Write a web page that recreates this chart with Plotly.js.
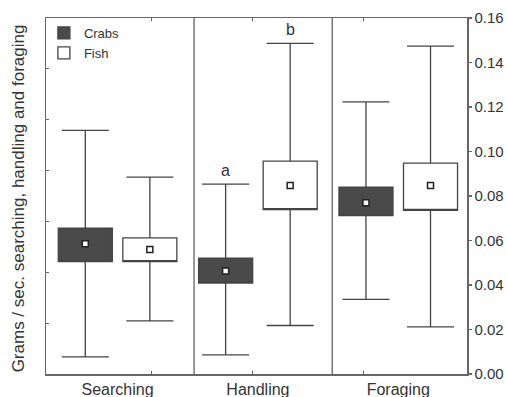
<!DOCTYPE html>
<html>
<head>
<meta charset="utf-8">
<script src="https://cdn.plot.ly/plotly-3.0.1.min.js"></script>
<style>html,body{margin:0;padding:0;background:#fff;}#chart{width:507px;height:397px;}</style>
</head>
<body>
<div id="chart"></div>
<script>
// Categories and series (mean, ±SE box, ±SD whiskers)
const categories = ['Searching', 'Handling', 'Foraging'];
const crabMean = [0.0585, 0.0463, 0.0770];
const crabSeHi = [0.0655, 0.0521, 0.0840];
const crabSeLo = [0.0505, 0.0409, 0.0712];
const crabSdHi = [0.1095, 0.0853, 0.1223];
const crabSdLo = [0.0077, 0.0086, 0.0335];
const fishMean = [0.0559, 0.0847, 0.0847];
const fishSeHi = [0.0612, 0.0957, 0.0948];
const fishSeLo = [0.0505, 0.0739, 0.0735];
const fishSdHi = [0.0885, 0.1486, 0.1474];
const fishSdLo = [0.0239, 0.0218, 0.0212];
const crabSig = ['', 'a', ''];
const fishSig = ['', 'b', ''];
const yTicks = [0, 0.02, 0.04, 0.06, 0.08, 0.10, 0.12, 0.14, 0.16];

const crabOffset = -0.22, fishOffset = 0.24;
const crabX = categories.map((c, i) => i + crabOffset);
const fishX = categories.map((c, i) => i + fishOffset);
const labelX = categories.map((c, i) => i + (crabOffset + fishOffset) / 2);

const lineCol = '#444';
const textCol = '#333';
const font = 'Liberation Sans, Arial, sans-serif';

function boxTrace(name, xs, lo, hi, sdLo, sdHi, fill) {
  return {
    type: 'box', name: name, x: xs,
    q1: lo, median: lo, q3: hi, lowerfence: sdLo, upperfence: sdHi,
    width: 0.385, whiskerwidth: 0.87,
    fillcolor: fill, line: {color: lineCol, width: 1.3},
    hoverinfo: 'skip', showlegend: true
  };
}
function meanTrace(xs, m) {
  return {
    type: 'scatter', mode: 'markers', x: xs, y: m, showlegend: false, hoverinfo: 'skip',
    marker: {symbol: 'square', size: 6, color: '#fff', line: {color: '#222', width: 1.5}}
  };
}

const data = [
  boxTrace('Crabs', crabX, crabSeLo, crabSeHi, crabSdLo, crabSdHi, '#4a4a4a'),
  boxTrace('Fish', fishX, fishSeLo, fishSeHi, fishSdLo, fishSdHi, '#ffffff'),
  meanTrace(crabX, crabMean),
  meanTrace(fishX, fishMean),
  {type: 'scatter', x: [null], y: [null], xaxis: 'x2', yaxis: 'y2', showlegend: false, hoverinfo: 'skip'}
];

const annotations = [];
crabSig.forEach((s, i) => { if (s) annotations.push({x: crabX[i], y: crabSdHi[i], text: s, showarrow: false, yanchor: 'bottom', yshift: 3, font: {size: 16, color: textCol, family: font}}); });
fishSig.forEach((s, i) => { if (s) annotations.push({x: fishX[i], y: fishSdHi[i], text: s, showarrow: false, yanchor: 'bottom', yshift: 3, font: {size: 16, color: textCol, family: font}}); });
annotations.push({
  xref: 'paper', yref: 'paper', x: -0.066, y: 0.494, xanchor: 'center', yanchor: 'middle',
  textangle: -90, showarrow: false,
  text: 'Grams / sec. searching, handling and foraging',
  font: {size: 17, color: textCol, family: font}
});

const layout = {
  width: 507, height: 397,
  margin: {l: 46, r: 40, t: 18, b: 23},
  paper_bgcolor: '#fff', plot_bgcolor: '#fff',
  font: {family: font, color: textCol},
  showlegend: true,
  legend: {x: -0.005, y: 1.0, xanchor: 'left', yanchor: 'top', bgcolor: 'rgba(0,0,0,0)',
           font: {size: 13, color: textCol, family: font}, itemwidth: 30, tracegroupgap: 0},
  xaxis: {
    range: [-0.5, 2.5], tickvals: labelX, ticktext: categories, ticks: '',
    showline: true, mirror: true, linecolor: '#666', linewidth: 1.5,
    showgrid: false, zeroline: false, tickfont: {size: 16, color: textCol, family: font}
  },
  yaxis: {
    range: [0, 0.16], tickvals: yTicks, tickformat: '.2f', side: 'right',
    ticks: 'outside', ticklen: 3, tickcolor: '#666', tickwidth: 1.2,
    showline: true, mirror: true, linecolor: '#666', linewidth: 1.5,
    showgrid: false, zeroline: false, tickfont: {size: 15, color: textCol, family: font}
  },
  xaxis2: {
    overlaying: 'x', anchor: 'y2', range: [-0.5, 2.5], tickvals: [0.255, 0.975, 1.76],
    ticks: 'inside', ticklen: 3, tickcolor: '#666', mirror: 'ticks', showline: false,
    showticklabels: false, showgrid: false, zeroline: false
  },
  yaxis2: {
    overlaying: 'y', anchor: 'x2', side: 'left', range: [0, 7], dtick: 1,
    ticks: 'inside', ticklen: 3, tickcolor: '#666', showticklabels: false,
    showline: false, showgrid: false, zeroline: false
  },
  shapes: [0.555, 1.54].map(v => ({type: 'line', xref: 'x', yref: 'paper', x0: v, x1: v, y0: 0, y1: 1,
    line: {color: '#777', width: 1.5}})),
  annotations: annotations
};

Plotly.newPlot('chart', data, layout, {staticPlot: true, displayModeBar: false});
</script>
</body>
</html>
